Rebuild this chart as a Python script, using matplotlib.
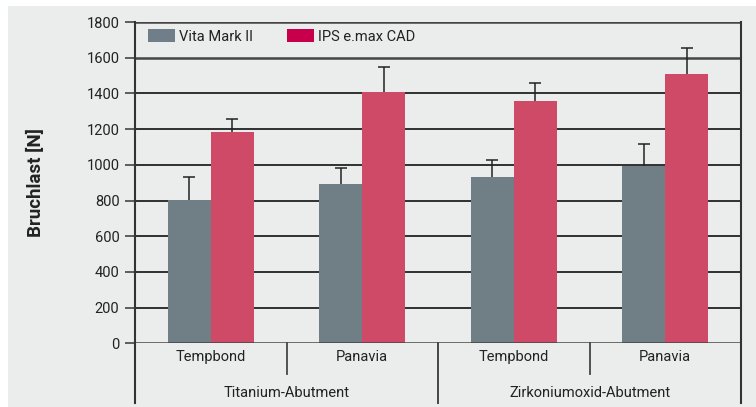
import matplotlib
matplotlib.use("Agg")
import matplotlib.pyplot as plt
import matplotlib.transforms as mtransforms
from matplotlib.patches import Patch, Rectangle
import numpy as np

plt.rcParams['font.family'] = ['Roboto', 'DejaVu Sans']

subcats = ["Tempbond", "Panavia", "Tempbond", "Panavia"]
groups = ["Titanium-Abutment", "Zirkoniumoxid-Abutment"]
series_names = ["Vita Mark II", "IPS e.max CAD"]
vita = [805, 894, 934, 991]
vita_err = [127, 90, 93, 124]
ips = [1186, 1407, 1355, 1506]
ips_err = [72, 143, 105, 150]
yticks = [0, 200, 400, 600, 800, 1000, 1200, 1400, 1600, 1800]

BG = "#ebecec"
GRAY = "#707e86"
RED = "#cf4a66"
LEG_GRAY = "#6f7e88"
LEG_RED = "#c8004b"
DARK = "#454545"
TXT = "#222222"
FS = 10.5

W, H = 756, 407
fig = plt.figure(figsize=(W/100, H/100), dpi=100, facecolor="white")
fig.patches.append(Rectangle((8/W, 0), 1, 1 - 6/H, transform=fig.transFigure,
                             facecolor=BG, edgecolor="none", zorder=-10))

left, right, top, bottom = 135, 741, 22, 343.3
ax = fig.add_axes([left/W, 1 - bottom/H, (right-left)/W, (bottom-top)/H])
ax.set_facecolor("none")

x = np.arange(len(subcats))
bw = 0.284
ax.bar(x - bw/2, vita, bw, color=GRAY, zorder=2)
ax.bar(x + bw/2, ips, bw, color=RED, zorder=2)
# symmetric error bars drawn behind the bars so only the upper half shows
ax.errorbar(x - bw/2, vita, yerr=vita_err, fmt="none",
            ecolor="#222222", elinewidth=1.1, capsize=4.3, capthick=1.1, zorder=1.5)
ax.errorbar(x + bw/2, ips, yerr=ips_err, fmt="none",
            ecolor="#222222", elinewidth=1.1, capsize=4.3, capthick=1.1, zorder=1.5)

ax.set_xlim(-0.5, 3.5)
ax.set_ylim(0, 1800)
ax.set_yticks(yticks)
ax.set_yticklabels([str(t) for t in yticks], fontsize=FS, color=TXT)
ax.tick_params(axis="y", direction="out", length=7.2, width=1.2, color=DARK, pad=4)
ax.set_xticks([])

for s in ["left", "right", "bottom", "top"]:
    ax.spines[s].set_visible(False)

# gridlines
for t in yticks:
    if t in (0, 1600, 1800):
        ax.axhline(t, color=DARK, lw=1.8, zorder=1 if t != 0 else 4)
    else:
        ax.axhline(t, color="#111111", lw=1.2, zorder=1)

trans = mtransforms.blended_transform_factory(ax.transData, ax.transAxes)

def ax_y(p):
    return (bottom - p) / (bottom - top)

# vertical frame lines
for xv in (-0.5, 3.5):
    ax.plot([xv, xv], [1, ax_y(403)], transform=trans, color="#333333",
            lw=1.5, clip_on=False, zorder=5)
ax.plot([1.5, 1.5], [0, ax_y(403)], transform=trans, color=DARK,
        lw=1.4, clip_on=False, zorder=5)
for xv in (0.5, 2.5):
    ax.plot([xv, xv], [0, ax_y(374)], transform=trans, color=DARK, lw=1.3,
            clip_on=False, zorder=5)

for i, lab in enumerate(subcats):
    ax.text(i, ax_y(357), lab, transform=trans, ha="center", va="center",
            fontsize=FS, color=TXT)
for j, g in enumerate(groups):
    ax.text(2*j + 0.5, ax_y(393), g, transform=trans, ha="center", va="center",
            fontsize=FS, color=TXT)

fig.text(36/W, 1 - 182.5/H, "Bruchlast [N]", rotation=90, ha="center", va="center",
         fontsize=13.5, fontweight="bold", color=TXT)

handles = [Patch(facecolor=LEG_GRAY, edgecolor="none"), Patch(facecolor=LEG_RED, edgecolor="none")]
leg = ax.legend(handles, series_names, ncol=2, loc="center left",
                bbox_to_anchor=((148 - left)/(right - left), ax_y(36.5)),
                frameon=False, fontsize=FS, handlelength=1.85, handleheight=0.9,
                handletextpad=0.3, columnspacing=2.3, borderpad=0, borderaxespad=0)
for t in leg.get_texts():
    t.set_color(TXT)

fig.savefig("out.png", dpi=100, facecolor="white")
